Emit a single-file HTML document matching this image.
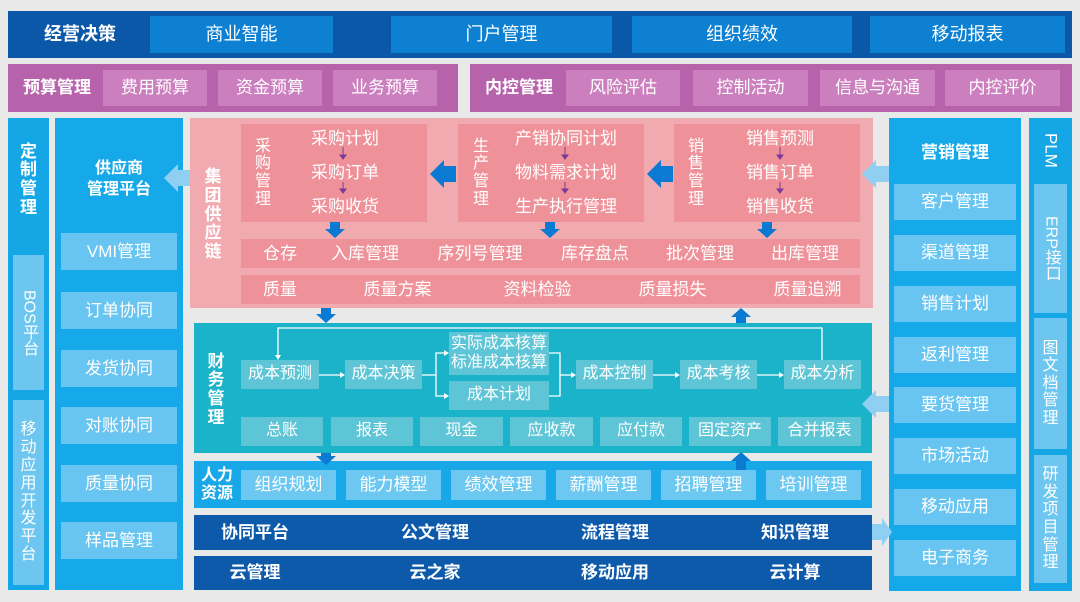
<!DOCTYPE html>
<html><head><meta charset="utf-8"><style>
*{margin:0;padding:0;box-sizing:border-box}
body{width:1080px;height:602px;background:#e9e9ea;position:relative;overflow:hidden;font-family:"Liberation Sans","Noto Sans CJK SC",sans-serif;color:#fff}
.a{position:absolute;display:flex;align-items:center;justify-content:center;text-align:center;line-height:1.15}
.b{font-weight:bold}
.v{line-height:1.1}
svg{position:absolute;left:0;top:0}
</style></head><body>
<!-- top -->
<div class="a" style="left:8px;top:11px;width:1064px;height:47px;background:#0b58a8"></div>
<div class="a b" style="left:20px;top:11px;width:120px;height:47px;font-size:18px">经营决策</div>
<div class="a" style="left:150px;top:16px;width:183px;height:37px;background:#0d80d2;font-size:18px">商业智能</div>
<div class="a" style="left:391px;top:16px;width:221px;height:37px;background:#0d80d2;font-size:18px">门户管理</div>
<div class="a" style="left:632px;top:16px;width:220px;height:37px;background:#0d80d2;font-size:18px">组织绩效</div>
<div class="a" style="left:870px;top:16px;width:195px;height:37px;background:#0d80d2;font-size:18px">移动报表</div>
<!-- row2 -->
<div class="a" style="left:8px;top:64px;width:450px;height:48px;background:#b763ab"></div>
<div class="a b" style="left:12px;top:64px;width:90px;height:48px;font-size:17px">预算管理</div>
<div class="a" style="left:103px;top:70px;width:104px;height:36px;background:#cb7fbe;font-size:17px">费用预算</div>
<div class="a" style="left:218px;top:70px;width:104px;height:36px;background:#cb7fbe;font-size:17px">资金预算</div>
<div class="a" style="left:333px;top:70px;width:104px;height:36px;background:#cb7fbe;font-size:17px">业务预算</div>
<div class="a" style="left:470px;top:64px;width:602px;height:48px;background:#b763ab"></div>
<div class="a b" style="left:474px;top:64px;width:90px;height:48px;font-size:17px">内控管理</div>
<div class="a" style="left:566px;top:70px;width:114px;height:36px;background:#cb7fbe;font-size:17px">风险评估</div>
<div class="a" style="left:693px;top:70px;width:115px;height:36px;background:#cb7fbe;font-size:17px">控制活动</div>
<div class="a" style="left:820px;top:70px;width:115px;height:36px;background:#cb7fbe;font-size:17px">信息与沟通</div>
<div class="a" style="left:945px;top:70px;width:115px;height:36px;background:#cb7fbe;font-size:17px">内控评价</div>
<!-- left col -->
<div class="a" style="left:8px;top:118px;width:41px;height:472px;background:#15a6e6"></div>
<div class="a b v" style="left:8px;top:140px;width:41px;height:80px;font-size:17px">定<br>制<br>管<br>理</div>
<div class="a v" style="left:13px;top:255px;width:31px;height:135px;background:#6dc6ef;font-size:16px;writing-mode:vertical-rl">BOS平台</div>
<div class="a v" style="left:13px;top:400px;width:31px;height:185px;background:#6dc6ef;font-size:16px;line-height:1.12">移<br>动<br>应<br>用<br>开<br>发<br>平<br>台</div>
<div class="a" style="left:55px;top:118px;width:128px;height:472px;background:#15a9ea"></div>
<div class="a b" style="left:55px;top:155px;width:128px;height:50px;font-size:16px;line-height:1.3">供应商<br>管理平台</div>
<div class="a" style="left:61px;top:233px;width:116px;height:37px;background:#68c4f0;font-size:17px">VMI管理</div>
<div class="a" style="left:61px;top:292px;width:116px;height:37px;background:#68c4f0;font-size:17px">订单协同</div>
<div class="a" style="left:61px;top:350px;width:116px;height:37px;background:#68c4f0;font-size:17px">发货协同</div>
<div class="a" style="left:61px;top:407px;width:116px;height:37px;background:#68c4f0;font-size:17px">对账协同</div>
<div class="a" style="left:61px;top:465px;width:116px;height:37px;background:#68c4f0;font-size:17px">质量协同</div>
<div class="a" style="left:61px;top:522px;width:116px;height:37px;background:#68c4f0;font-size:17px">样品管理</div>
<!-- supply chain -->
<div class="a" style="left:190px;top:118px;width:683px;height:190px;background:#f2aab1"></div>
<div class="a b v" style="left:198px;top:160px;width:30px;height:110px;font-size:17px">集<br>团<br>供<br>应<br>链</div>
<div class="a" style="left:241px;top:124px;width:186px;height:98px;background:#ef9199"></div>
<div class="a v" style="left:245px;top:130px;width:36px;height:86px;font-size:16px">采<br>购<br>管<br>理</div>
<div class="a" style="left:290px;top:126px;width:110px;height:94px;font-size:17px;line-height:34px">采购计划<br>采购订单<br>采购收货</div>
<div class="a" style="left:458px;top:124px;width:186px;height:98px;background:#ef9199"></div>
<div class="a v" style="left:463px;top:130px;width:36px;height:86px;font-size:16px">生<br>产<br>管<br>理</div>
<div class="a" style="left:500px;top:126px;width:132px;height:94px;font-size:17px;line-height:34px">产销协同计划<br>物料需求计划<br>生产执行管理</div>
<div class="a" style="left:674px;top:124px;width:186px;height:98px;background:#ef9199"></div>
<div class="a v" style="left:678px;top:130px;width:36px;height:86px;font-size:16px">销<br>售<br>管<br>理</div>
<div class="a" style="left:725px;top:126px;width:110px;height:94px;font-size:17px;line-height:34px">销售预测<br>销售订单<br>销售收货</div>
<div class="a" style="left:241px;top:239px;width:619px;height:29px;background:#ef9199"></div>
<div class="a" style="left:250px;top:239px;width:60px;height:29px;font-size:17px">仓存</div>
<div class="a" style="left:320px;top:239px;width:90px;height:29px;font-size:17px">入库管理</div>
<div class="a" style="left:425px;top:239px;width:110px;height:29px;font-size:17px">序列号管理</div>
<div class="a" style="left:550px;top:239px;width:90px;height:29px;font-size:17px">库存盘点</div>
<div class="a" style="left:655px;top:239px;width:90px;height:29px;font-size:17px">批次管理</div>
<div class="a" style="left:760px;top:239px;width:90px;height:29px;font-size:17px">出库管理</div>
<div class="a" style="left:241px;top:275px;width:619px;height:29px;background:#ef9199"></div>
<div class="a" style="left:250px;top:275px;width:60px;height:29px;font-size:17px">质量</div>
<div class="a" style="left:350px;top:275px;width:95px;height:29px;font-size:17px">质量方案</div>
<div class="a" style="left:490px;top:275px;width:95px;height:29px;font-size:17px">资料检验</div>
<div class="a" style="left:625px;top:275px;width:95px;height:29px;font-size:17px">质量损失</div>
<div class="a" style="left:760px;top:275px;width:95px;height:29px;font-size:17px">质量追溯</div>
<!-- finance -->
<div class="a" style="left:194px;top:323px;width:678px;height:130px;background:#1ab3c9"></div>
<div class="a b v" style="left:200px;top:350px;width:32px;height:80px;font-size:17px">财<br>务<br>管<br>理</div>
<div class="a" style="left:241px;top:360px;width:78px;height:29px;background:#5ec5d6;font-size:16px">成本预测</div>
<div class="a" style="left:345px;top:360px;width:77px;height:29px;background:#5ec5d6;font-size:16px">成本决策</div>
<div class="a" style="left:449px;top:332px;width:100px;height:43px;background:#5ec5d6;font-size:16px">实际成本核算<br>标准成本核算</div>
<div class="a" style="left:449px;top:381px;width:100px;height:29px;background:#5ec5d6;font-size:16px">成本计划</div>
<div class="a" style="left:576px;top:360px;width:77px;height:29px;background:#5ec5d6;font-size:16px">成本控制</div>
<div class="a" style="left:680px;top:360px;width:77px;height:29px;background:#5ec5d6;font-size:16px">成本考核</div>
<div class="a" style="left:784px;top:360px;width:77px;height:29px;background:#5ec5d6;font-size:16px">成本分析</div>
<div class="a" style="left:241px;top:417px;width:82px;height:29px;background:#5ec5d6;font-size:16px">总账</div>
<div class="a" style="left:331px;top:417px;width:82px;height:29px;background:#5ec5d6;font-size:16px">报表</div>
<div class="a" style="left:420px;top:417px;width:83px;height:29px;background:#5ec5d6;font-size:16px">现金</div>
<div class="a" style="left:510px;top:417px;width:83px;height:29px;background:#5ec5d6;font-size:16px">应收款</div>
<div class="a" style="left:600px;top:417px;width:82px;height:29px;background:#5ec5d6;font-size:16px">应付款</div>
<div class="a" style="left:689px;top:417px;width:82px;height:29px;background:#5ec5d6;font-size:16px">固定资产</div>
<div class="a" style="left:778px;top:417px;width:83px;height:29px;background:#5ec5d6;font-size:16px">合并报表</div>
<!-- HR -->
<div class="a" style="left:194px;top:461px;width:678px;height:47px;background:#18a8e8"></div>
<div class="a b" style="left:196px;top:461px;width:42px;height:47px;font-size:16px;line-height:1.1">人力<br>资源</div>
<div class="a" style="left:241px;top:470px;width:95px;height:30px;background:#6cc8f0;font-size:17px">组织规划</div>
<div class="a" style="left:346px;top:470px;width:95px;height:30px;background:#6cc8f0;font-size:17px">能力模型</div>
<div class="a" style="left:451px;top:470px;width:95px;height:30px;background:#6cc8f0;font-size:17px">绩效管理</div>
<div class="a" style="left:556px;top:470px;width:95px;height:30px;background:#6cc8f0;font-size:17px">薪酬管理</div>
<div class="a" style="left:661px;top:470px;width:95px;height:30px;background:#6cc8f0;font-size:17px">招聘管理</div>
<div class="a" style="left:766px;top:470px;width:95px;height:30px;background:#6cc8f0;font-size:17px">培训管理</div>
<!-- dark rows -->
<div class="a" style="left:194px;top:515px;width:678px;height:35px;background:#0d5aab"></div>
<div class="a b" style="left:205px;top:515px;width:100px;height:35px;font-size:17px">协同平台</div>
<div class="a b" style="left:385px;top:515px;width:100px;height:35px;font-size:17px">公文管理</div>
<div class="a b" style="left:565px;top:515px;width:100px;height:35px;font-size:17px">流程管理</div>
<div class="a b" style="left:745px;top:515px;width:100px;height:35px;font-size:17px">知识管理</div>
<div class="a" style="left:194px;top:556px;width:678px;height:34px;background:#0d5aab"></div>
<div class="a b" style="left:205px;top:556px;width:100px;height:34px;font-size:17px">云管理</div>
<div class="a b" style="left:385px;top:556px;width:100px;height:34px;font-size:17px">云之家</div>
<div class="a b" style="left:565px;top:556px;width:100px;height:34px;font-size:17px">移动应用</div>
<div class="a b" style="left:745px;top:556px;width:100px;height:34px;font-size:17px">云计算</div>
<!-- right -->
<div class="a" style="left:889px;top:118px;width:132px;height:473px;background:#15a9ea"></div>
<div class="a b" style="left:889px;top:138px;width:132px;height:30px;font-size:17px">营销管理</div>
<div class="a" style="left:894px;top:184px;width:122px;height:36px;background:#68c4f0;font-size:17px">客户管理</div>
<div class="a" style="left:894px;top:235px;width:122px;height:36px;background:#68c4f0;font-size:17px">渠道管理</div>
<div class="a" style="left:894px;top:286px;width:122px;height:36px;background:#68c4f0;font-size:17px">销售计划</div>
<div class="a" style="left:894px;top:337px;width:122px;height:36px;background:#68c4f0;font-size:17px">返利管理</div>
<div class="a" style="left:894px;top:387px;width:122px;height:36px;background:#68c4f0;font-size:17px">要货管理</div>
<div class="a" style="left:894px;top:438px;width:122px;height:36px;background:#68c4f0;font-size:17px">市场活动</div>
<div class="a" style="left:894px;top:489px;width:122px;height:36px;background:#68c4f0;font-size:17px">移动应用</div>
<div class="a" style="left:894px;top:540px;width:122px;height:36px;background:#68c4f0;font-size:17px">电子商务</div>
<div class="a" style="left:1029px;top:118px;width:43px;height:473px;background:#15a6e6"></div>
<div class="a" style="left:1029px;top:122px;width:43px;height:56px;font-size:17px;writing-mode:vertical-rl">PLM</div>
<div class="a" style="left:1034px;top:184px;width:33px;height:129px;background:#6dc6ef;font-size:16px;writing-mode:vertical-rl">ERP接口</div>
<div class="a v" style="left:1034px;top:318px;width:33px;height:131px;background:#6dc6ef;font-size:16px">图<br>文<br>档<br>管<br>理</div>
<div class="a v" style="left:1034px;top:455px;width:33px;height:128px;background:#6dc6ef;font-size:16px">研<br>发<br>项<br>目<br>管<br>理</div>
<svg width="1080" height="602">
<g fill="#8fd0f2">
<polygon points="190,170 178,170 178,164 164,178 178,192 178,186 190,186"/>
<polygon points="889,166 876,166 876,160 862,174 876,188 876,182 889,182"/>
<polygon points="889,396 876,396 876,390 862,404 876,418 876,412 889,412"/>
<polygon points="872,524 882,524 882,518 892,532 882,546 882,540 872,540"/>
</g>
<g fill="#0a7ad2">
<polygon points="456,166 444,166 444,160 430,174 444,188 444,182 456,182"/>
<polygon points="673,166 661,166 661,160 647,174 661,188 661,182 673,182"/>
<polygon points="330,222 340,222 340,229 345,229 335,238 325,229 330,229"/>
<polygon points="545,222 555,222 555,229 560,229 550,238 540,229 545,229"/>
<polygon points="762,222 772,222 772,229 777,229 767,238 757,229 762,229"/>
<polygon points="321,308 331,308 331,314 336,314 326,323 316,314 321,314"/>
<polygon points="736,323 746,323 746,317 751,317 741,308 731,317 736,317"/>
<polygon points="321,453 331,453 331,456 336,456 326,465 316,456 321,456"/>
<polygon points="736,470 746,470 746,461 751,461 741,452 731,461 736,461"/>
</g>
<g stroke="#7a3a9a" stroke-width="1" fill="#7a3a9a">
<line x1="343" y1="147" x2="343" y2="157"/><polygon points="340,155 346,155 343,159"/>
<line x1="343" y1="182" x2="343" y2="191"/><polygon points="340,189 346,189 343,193"/>
<line x1="565" y1="147" x2="565" y2="157"/><polygon points="562,155 568,155 565,159"/>
<line x1="565" y1="182" x2="565" y2="191"/><polygon points="562,189 568,189 565,193"/>
<line x1="780" y1="147" x2="780" y2="157"/><polygon points="777,155 783,155 780,159"/>
<line x1="780" y1="182" x2="780" y2="191"/><polygon points="777,189 783,189 780,193"/>
</g>
<g stroke="#fff" stroke-width="1.3" fill="none">
<polyline points="822,360 822,328 278,328 278,356"/>
<line x1="319" y1="375" x2="341" y2="375"/>
<polyline points="422,375 436,375"/>
<polyline points="445,353 436,353 436,396 445,396"/>
<polyline points="549,353 560,353 560,396 549,396"/>
<line x1="560" y1="375" x2="572" y2="375"/>
<line x1="653" y1="375" x2="676" y2="375"/>
<line x1="757" y1="375" x2="780" y2="375"/>
</g>
<g fill="#fff">
<polygon points="275,355 281,355 278,360"/>
<polygon points="340,372 340,378 345,375"/>
<polygon points="444,350 444,356 449,353"/>
<polygon points="444,393 444,399 449,396"/>
<polygon points="571,372 571,378 576,375"/>
<polygon points="675,372 675,378 680,375"/>
<polygon points="779,372 779,378 784,375"/>
</g>
</svg>
</body></html>
